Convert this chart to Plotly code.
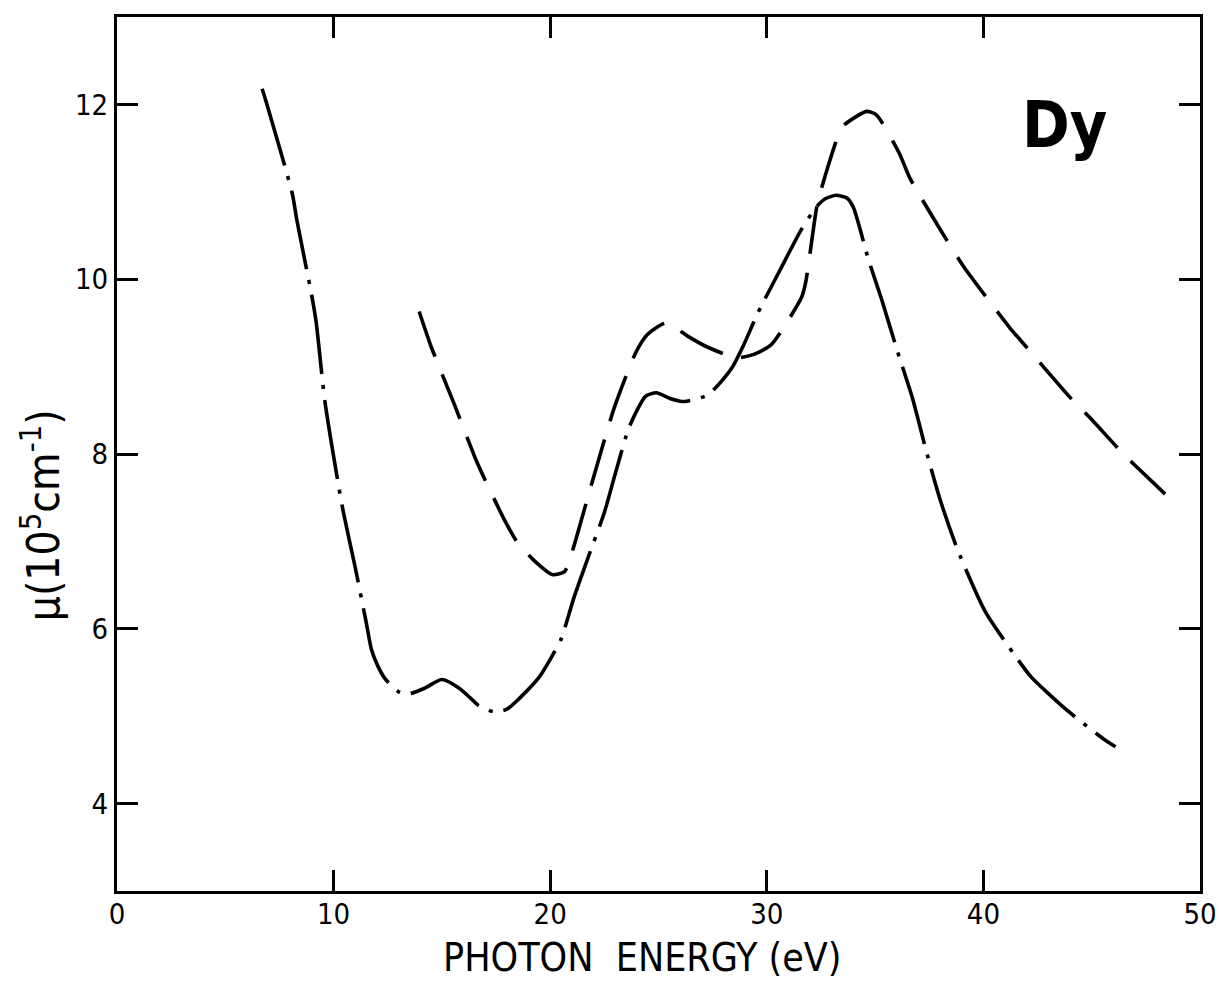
import plotly.graph_objects as go

# Dash-dot curve
dd_x = [6.7, 6.9, 8.1, 8.3, 9.0, 9.2, 9.6, 10.4, 11.0, 11.5, 11.75, 12.05, 12.4, 13.0, 13.4,
        14.2, 15.0, 15.8, 16.35, 16.7, 17.4, 18.0, 18.6, 19.5, 20.0, 20.5, 21.1, 21.8, 22.5,
        23.0, 23.65, 24.4, 24.9, 25.6, 26.2, 27.3, 28.4, 28.9, 29.6, 30.6, 31.6, 32.3, 32.7,
        33.2, 33.7, 34.0, 34.7, 35.3, 36.0, 36.7, 37.4, 38.0, 38.8, 40.1, 41.5, 42.2, 43.8,
        45.6, 46.1]
dd_y = [12.18, 12.02, 10.97, 10.68, 9.8, 9.5, 8.6, 7.40, 6.7, 6.08, 5.76, 5.57, 5.42, 5.28, 5.25,
        5.32, 5.42, 5.32, 5.20, 5.12, 5.05, 5.08, 5.21, 5.45, 5.65, 5.88, 6.36, 6.85, 7.33,
        7.77, 8.31, 8.66, 8.70, 8.63, 8.60, 8.68, 8.99, 9.23, 9.62, 10.1, 10.57, 10.83, 10.92,
        10.96, 10.93, 10.82, 10.22, 9.77, 9.2, 8.66, 8.0, 7.48, 6.91, 6.19, 5.68, 5.45, 5.08,
        4.73, 4.65]

# Dashed curve
da_x = [13.95, 14.5, 15.57, 16.63, 17.88, 18.48, 19.35, 20.09, 20.65, 21.0, 21.8, 22.96, 23.97,
        24.5, 25.36, 26.4, 27.2, 28.6, 29.4, 30.2, 31.6, 31.8, 32.3, 32.55, 33.35, 33.6, 34.6,
        35.06, 36.1, 36.6, 38.3, 39.1, 41.2, 42.0, 44.1, 44.9, 46.5, 47.3, 48.9]
da_y = [9.63, 9.23, 8.57, 7.90, 7.25, 6.99, 6.76, 6.62, 6.65, 6.87, 7.56, 8.53, 9.17,
        9.37, 9.50, 9.34, 9.23, 9.10, 9.14, 9.25, 9.79, 9.97, 10.82, 11.06, 11.68, 11.77, 11.92,
        11.88, 11.45, 11.16, 10.45, 10.14, 9.45, 9.22, 8.62, 8.42, 7.99, 7.80, 7.42]

x_ticks = [0, 10, 20, 30, 40, 50]
y_ticks = [4, 6, 8, 10, 12]

FONT = "Liberation Sans Narrow, DejaVu Sans Condensed, Arial Narrow, sans-serif"

fig = go.Figure()
fig.add_trace(go.Scatter(
    x=dd_x, y=dd_y, mode="lines",
    line=dict(color="black", width=3.6, dash="80px,11px,4px,11px", shape="spline", smoothing=0.6),
    showlegend=False, hoverinfo="skip"))
fig.add_trace(go.Scatter(
    x=da_x, y=da_y, mode="lines",
    line=dict(color="black", width=3.6, dash="48px,19px", shape="spline", smoothing=0.6),
    showlegend=False, hoverinfo="skip"))

fig.add_annotation(x=43.75, y=11.76, xref="x", yref="y", text="<b>Dy</b>",
                   showarrow=False, font=dict(family=FONT, size=64, color="black"),
                   xanchor="center", yanchor="middle")

# axis titles placed as annotations (paper coords)
fig.add_annotation(x=0.485, y=-0.1025, xref="paper", yref="paper", text="PHOTON  ENERGY (eV)",
                   showarrow=False, font=dict(family=FONT, size=39, color="black"),
                   xanchor="center", yanchor="bottom", borderpad=0)
fig.add_annotation(x=-0.071, y=0.43, xref="paper", yref="paper",
                   text="\u03bc(10<sup>5</sup>cm<sup>-1</sup>)", textangle=-90,
                   showarrow=False, font=dict(family=FONT, size=44, color="black"),
                   xanchor="center", yanchor="middle")

axis_common = dict(showline=True, linecolor="black", linewidth=3, mirror="ticks",
                   ticks="inside", ticklen=21, tickwidth=3, tickcolor="black",
                   showgrid=False, zeroline=False, automargin=False,
                   tickfont=dict(family=FONT, size=29, color="black"))

fig.update_xaxes(range=[0, 50], tickvals=x_ticks, ticktext=[str(v) for v in x_ticks],
                 ticklabelstandoff=-5, **axis_common)
fig.update_yaxes(range=[3, 13], tickvals=y_ticks, ticktext=[str(v) for v in y_ticks],
                 **axis_common)

fig.update_layout(width=1221, height=982, paper_bgcolor="white", plot_bgcolor="white",
                  margin=dict(l=117, r=21, t=17, b=91))

fig.write_html("out.html", config={"displayModeBar": False},
               post_script="document.body.style.margin='0px';document.body.style.padding='0px';")
